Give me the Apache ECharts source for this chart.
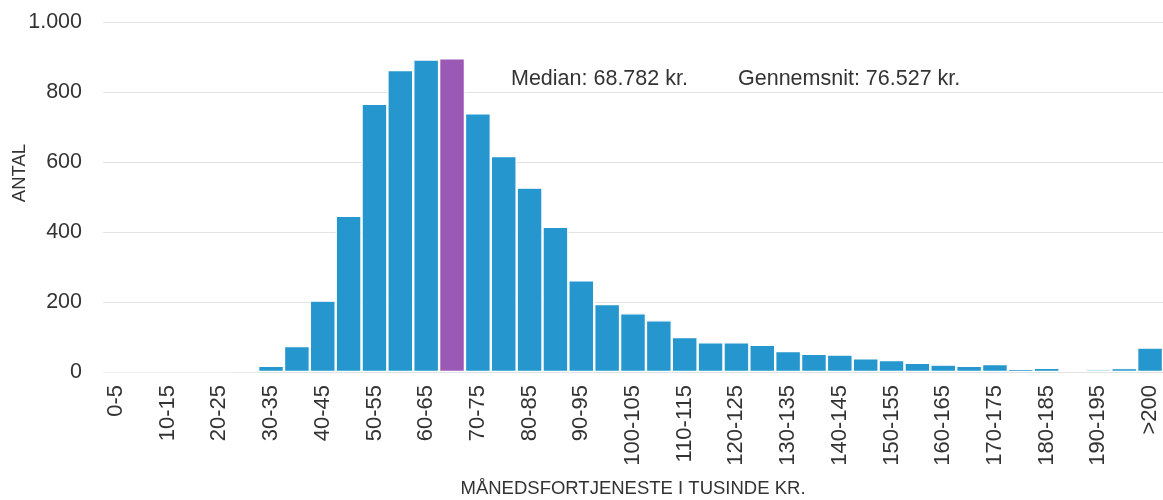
<!DOCTYPE html>
<html>
<head>
<meta charset="utf-8">
<script src="https://cdn.jsdelivr.net/npm/echarts@6/dist/echarts.min.js"></script>
<style>html,body{margin:0;padding:0;background:#fff}#c{width:1163px;height:500px}</style>
</head>
<body>
<div id="c"></div>
<script>
const categories = ['0-5','5-10','10-15','15-20','20-25','25-30','30-35','35-40','40-45','45-50','50-55','55-60','60-65','65-70','70-75','75-80','80-85','85-90','90-95','95-100','100-105','105-110','110-115','115-120','120-125','125-130','130-135','135-140','140-145','145-150','150-155','155-160','160-165','165-170','170-175','175-180','180-185','185-190','190-195','195-200','>200'];
const counts = [0,0,0,0,1,2,18,74,204,446,766,863,893,896,739,617,527,415,262,194,168,148,100,85,85,78,60,52,50,39,34,26,21,18,23,9,12,6,8,11,70];
const medianIndex = 13;
const yTicks = [0,200,400,600,800,1000];
const annotations = ['Median: 68.782 kr.', 'Gennemsnit: 76.527 kr.'];
const xName = 'MÅNEDSFORTJENESTE I TUSINDE KR.';
const yName = 'ANTAL';

const blue = '#2596CE', purple = '#9B59B6';
const font = 'Liberation Sans, Arial, sans-serif';
const chart = echarts.init(document.getElementById('c'));
chart.setOption({
  animation: false,
  textStyle: {fontFamily: font},
  grid: {left: 103, right: 0, top: 22, bottom: 128, containLabel: false, outerBoundsMode: 'none'},
  xAxis: {
    type: 'category', data: categories,
    name: xName, nameLocation: 'middle', nameGap: 107,
    nameTextStyle: {fontSize: 18.5, color: '#333', fontFamily: font},
    axisLine: {show: false}, axisTick: {show: false},
    axisLabel: {interval: 1, rotate: 90, fontSize: 22, color: '#333', margin: 13, fontFamily: font}
  },
  yAxis: {
    type: 'value', min: yTicks[0], max: yTicks[yTicks.length-1], interval: 200,
    axisLabel: {fontSize: 21.5, color: '#333', margin: 21, fontFamily: font,
      formatter: v => v >= 1000 ? (v/1000) + '.' + String(v%1000).padStart(3,'0') : String(v)},
    splitLine: {lineStyle: {color: '#e3e3e3', width: 1}}
  },
  series: [{
    type: 'bar',
    data: counts.map((v,i) => ({value: v, itemStyle: {color: i === medianIndex ? purple : blue}})),
    barCategoryGap: '0%',
    itemStyle: {borderColor: '#fff', borderWidth: 1.2}
  }],
  graphic: [
    {type: 'text', x: 20, y: 173, rotation: Math.PI/2,
      style: {text: yName, fontSize: 18.5, fill: '#333', fontFamily: font, align: 'center', verticalAlign: 'middle'}},
    {type: 'text', left: 511, top: 68, style: {text: annotations[0], fontSize: 21.5, fill: '#333', fontFamily: font}},
    {type: 'text', left: 738, top: 68, style: {text: annotations[1], fontSize: 21.5, fill: '#333', fontFamily: font}}
  ]
});
</script>
</body>
</html>
